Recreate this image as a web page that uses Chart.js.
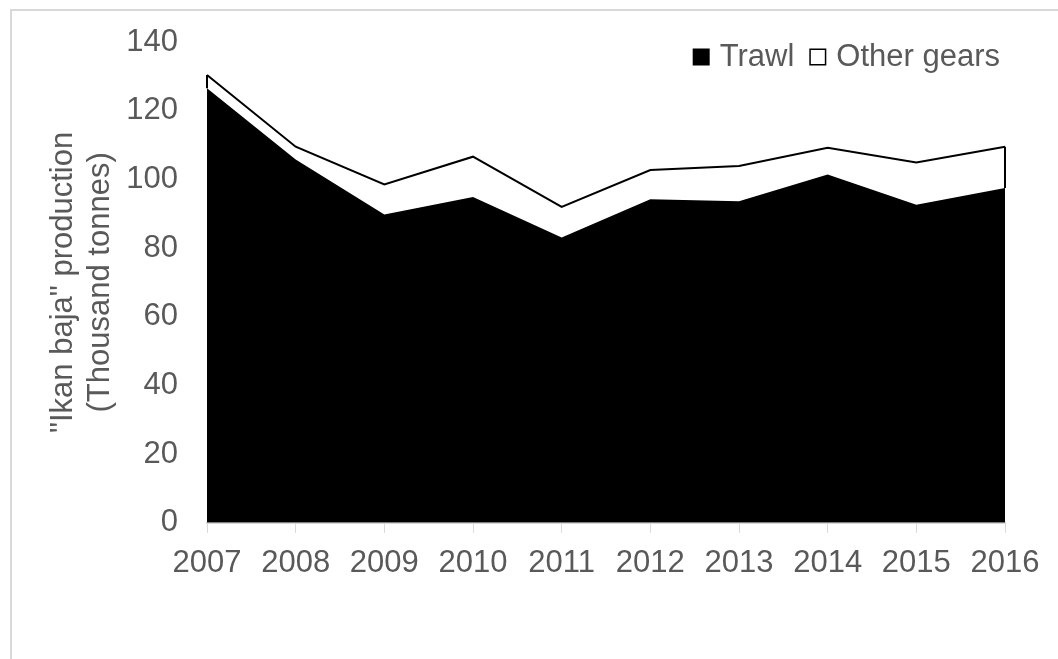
<!DOCTYPE html>
<html>
<head>
<meta charset="utf-8">
<script src="https://cdn.jsdelivr.net/npm/chart.js@4/dist/chart.umd.min.js"></script>
<style>
    html, body { margin: 0; padding: 0; background: #fff; overflow: hidden; }
    #frame { position: absolute; left: 10px; top: 9px; width: 1100px; height: 700px;
             border-left: 2px solid #d9d9d9; border-top: 2px solid #d9d9d9; }
    #chart { position: absolute; left: 0; top: 0; }
</style>
</head>
<body>
<div id="frame"></div>
<canvas id="chart" width="1058" height="659"></canvas>
<script>
    // thousand tonnes
    const years = ['2007', '2008', '2009', '2010', '2011', '2012', '2013', '2014', '2015', '2016'];
    const trawl = [126.5, 105.8, 89.8, 94.9, 83.1, 94.2, 93.6, 101.4, 92.6, 97.5];
    const otherGears = [3.9, 3.7, 8.7, 11.7, 8.9, 8.5, 10.3, 7.8, 12.3, 12.0];

    const textColor = '#595959';
    const fontFamily = '"Liberation Sans", Arial, sans-serif';
    const fontSize = 31;

    // Excel outlines the whole area shape, so close the white band at both ends
    const bandEdges = {
        id: 'bandEdges',
        afterDatasetsDraw: function (chart) {
            const lower = chart.getDatasetMeta(0).data;
            const upper = chart.getDatasetMeta(1).data;
            const ctx = chart.ctx;
            ctx.save();
            ctx.strokeStyle = '#000';
            ctx.lineWidth = 2;
            [0, upper.length - 1].forEach(function (i) {
                ctx.beginPath();
                ctx.moveTo(upper[i].x, upper[i].y);
                ctx.lineTo(lower[i].x, lower[i].y);
                ctx.stroke();
            });
            ctx.restore();
        }
    };

    // legend inside the plot, top right, like the Excel one
    const cornerLegend = {
        id: 'cornerLegend',
        afterDraw: function (chart) {
            const ctx = chart.ctx;
            const area = chart.chartArea;
            const box = 17, gap = 10, itemGap = 15;
            const cy = area.top + 15;
            ctx.save();
            ctx.font = fontSize + 'px ' + fontFamily;
            ctx.textBaseline = 'middle';
            let x = area.right - 5;
            chart.data.datasets.slice().reverse().forEach(function (ds) {
                const w = ctx.measureText(ds.label).width;
                x -= w;
                ctx.fillStyle = textColor;
                ctx.fillText(ds.label, x, cy);
                x -= gap + box;
                ctx.fillStyle = ds.backgroundColor;
                ctx.fillRect(x, cy - box / 2, box, box);
                if (ds.borderWidth) {
                    ctx.strokeStyle = ds.borderColor;
                    ctx.lineWidth = 1.5;
                    ctx.strokeRect(x + 0.75, cy - box / 2 + 0.75, box - 1.5, box - 1.5);
                }
                x -= itemGap;
            });
            ctx.restore();
        }
    };

    new Chart(document.getElementById('chart'), {
        type: 'line',
        data: {
            labels: years,
            datasets: [{
                label: 'Trawl',
                data: trawl,
                fill: 'origin',
                backgroundColor: '#000',
                borderColor: '#000',
                borderWidth: 0,
                pointRadius: 0,
                tension: 0,
            }, {
                label: 'Other gears',
                data: otherGears,
                fill: '-1',
                backgroundColor: '#fff',
                borderColor: '#000',
                borderWidth: 2,
                pointRadius: 0,
                tension: 0,
            }],
        },
        options: {
            responsive: false,
            animation: false,
            layout: { padding: { left: 41, right: 53, top: 42, bottom: 65 } },
            plugins: {
                legend: { display: false },
                tooltip: { enabled: false },
            },
            scales: {
                x: {
                    offset: false,
                    grid: { display: true, drawOnChartArea: false, drawTicks: true, tickLength: 10, color: '#d9d9d9' },
                    border: { display: true, color: '#d9d9d9', width: 2 },
                    ticks: { color: textColor, padding: 12, maxRotation: 0, font: { family: fontFamily, size: fontSize } },
                },
                y: {
                    stacked: true,
                    min: 0,
                    max: 140,
                    grid: { display: false, drawTicks: false },
                    border: { display: false },
                    ticks: { stepSize: 20, color: textColor, padding: 29, font: { family: fontFamily, size: fontSize } },
                    title: {
                        display: true,
                        text: ['"Ikan baja" production', '(Thousand tonnes)'],
                        color: textColor,
                        font: { family: fontFamily, size: fontSize, lineHeight: 1.2 },
                        padding: 4,
                    },
                    afterFit: function (scale) {
                        scale.width = 166;
                        scale.paddingTop = 0;
                        scale.paddingBottom = 0;
                    },
                },
            },
        },
        plugins: [bandEdges, cornerLegend],
    });
</script>
</body>
</html>
